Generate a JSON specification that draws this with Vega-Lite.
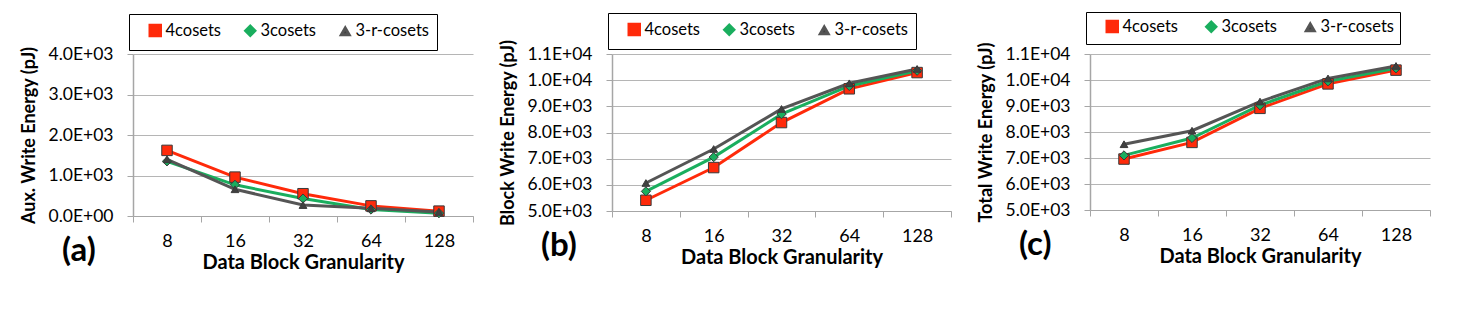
{
  "$schema": "https://vega.github.io/schema/vega-lite/v6.json",
  "background": "white",
  "padding": {"left": 20, "top": 11, "right": 5, "bottom": 5},
  "config": {
    "font": "Lato",
    "view": {"stroke": null},
    "axis": {"labelFont": "Lato", "titleFont": "Lato", "labelColor": "#000000", "titleColor": "#000000"},
    "title": {"font": "Lato", "color": "#000000"},
    "legend": {"labelFont": "Lato", "labelColor": "#000000"}
  },
  "datasets": {
    "d": [
      {"p": "a", "g": 8, "s": "4cosets", "v": 1620},
      {"p": "a", "g": 16, "s": "4cosets", "v": 960},
      {"p": "a", "g": 32, "s": "4cosets", "v": 550},
      {"p": "a", "g": 64, "s": "4cosets", "v": 250},
      {"p": "a", "g": 128, "s": "4cosets", "v": 120},
      {"p": "a", "g": 8, "s": "3cosets", "v": 1350},
      {"p": "a", "g": 16, "s": "3cosets", "v": 770},
      {"p": "a", "g": 32, "s": "3cosets", "v": 430},
      {"p": "a", "g": 64, "s": "3cosets", "v": 160},
      {"p": "a", "g": 128, "s": "3cosets", "v": 70},
      {"p": "a", "g": 8, "s": "3-r-cosets", "v": 1400},
      {"p": "a", "g": 16, "s": "3-r-cosets", "v": 660},
      {"p": "a", "g": 32, "s": "3-r-cosets", "v": 270},
      {"p": "a", "g": 64, "s": "3-r-cosets", "v": 190},
      {"p": "a", "g": 128, "s": "3-r-cosets", "v": 100},
      {"p": "b", "g": 8, "s": "4cosets", "v": 5410},
      {"p": "b", "g": 16, "s": "4cosets", "v": 6660},
      {"p": "b", "g": 32, "s": "4cosets", "v": 8380},
      {"p": "b", "g": 64, "s": "4cosets", "v": 9670},
      {"p": "b", "g": 128, "s": "4cosets", "v": 10290},
      {"p": "b", "g": 8, "s": "3cosets", "v": 5750},
      {"p": "b", "g": 16, "s": "3cosets", "v": 7060},
      {"p": "b", "g": 32, "s": "3cosets", "v": 8700},
      {"p": "b", "g": 64, "s": "3cosets", "v": 9780},
      {"p": "b", "g": 128, "s": "3cosets", "v": 10360},
      {"p": "b", "g": 8, "s": "3-r-cosets", "v": 6070},
      {"p": "b", "g": 16, "s": "3-r-cosets", "v": 7370},
      {"p": "b", "g": 32, "s": "3-r-cosets", "v": 8900},
      {"p": "b", "g": 64, "s": "3-r-cosets", "v": 9880},
      {"p": "b", "g": 128, "s": "3-r-cosets", "v": 10430},
      {"p": "c", "g": 8, "s": "4cosets", "v": 6960},
      {"p": "c", "g": 16, "s": "4cosets", "v": 7600},
      {"p": "c", "g": 32, "s": "4cosets", "v": 8910},
      {"p": "c", "g": 64, "s": "4cosets", "v": 9850},
      {"p": "c", "g": 128, "s": "4cosets", "v": 10380},
      {"p": "c", "g": 8, "s": "3cosets", "v": 7100},
      {"p": "c", "g": 16, "s": "3cosets", "v": 7770},
      {"p": "c", "g": 32, "s": "3cosets", "v": 9030},
      {"p": "c", "g": 64, "s": "3cosets", "v": 9950},
      {"p": "c", "g": 128, "s": "3cosets", "v": 10450},
      {"p": "c", "g": 8, "s": "3-r-cosets", "v": 7530},
      {"p": "c", "g": 16, "s": "3-r-cosets", "v": 8050},
      {"p": "c", "g": 32, "s": "3-r-cosets", "v": 9170},
      {"p": "c", "g": 64, "s": "3-r-cosets", "v": 10060},
      {"p": "c", "g": 128, "s": "3-r-cosets", "v": 10540}
    ]
  },
  "spacing": 25,
  "resolve": {"scale": {"stroke": "independent", "fill": "independent", "shape": "independent", "size": "independent", "y": "independent", "x": "independent"}, "legend": {"stroke": "independent"}},
  "hconcat": [
    {
      "width": 340, "height": 162,
      "data": {"name": "d"},
      "transform": [{"filter": "datum.p === 'a'"}],
      "title": {"text": "(a)", "orient": "bottom", "anchor": "start", "frame": "bounds", "fontSize": 33, "fontWeight": "bold", "dx": 42, "dy": -37, "offset": 0},
      "encoding": {
        "x": {"field": "g", "type": "ordinal", "sort": "ascending",
          "scale": {"type": "band", "paddingInner": 0, "paddingOuter": 0},
          "axis": {"title": "Data Block Granularity", "labelAngle": 0, "tickBand": "extent", "tickSize": 6, "tickColor": "#a6a6a6", "domainColor": "#a6a6a6", "labelFontSize": 18, "labelPadding": 10, "titleFontSize": 20, "titleFontWeight": "bold", "titlePadding": 2, "grid": false}},
        "y": {"field": "v", "type": "quantitative",
          "scale": {"domain": [0, 4000], "nice": false, "zero": false},
          "axis": {"title": "Aux. Write Energy (pJ)", "values": [0, 1000, 2000, 3000, 4000], "labelExpr": "datum.value == 0 ? '0.0E+00' : datum.value >= 10000 ? format(datum.value/10000, '.1f') + 'E+04' : format(datum.value/1000, '.1f') + 'E+03'", "grid": true, "gridColor": "#b5b5b5", "gridWidth": 1.2, "tickColor": "#a6a6a6", "tickSize": 6, "domainColor": "#a6a6a6", "domainWidth": 1.5, "labelFontSize": 17.5, "labelPadding": 14, "titleFontSize": 18, "titleFontWeight": "bold", "titlePadding": 10}}
      },
      "layer": [
        {"mark": {"type": "line", "strokeWidth": 3},
          "encoding": {"stroke": {"field": "s", "type": "nominal", "sort": ["4cosets", "3cosets", "3-r-cosets"],
            "scale": {"domain": ["4cosets", "3cosets", "3-r-cosets"], "range": ["#ff2a0a", "#1aae5e", "#555555"]},
            "legend": {"orient": "none", "legendX": -4, "legendY": -40, "direction": "horizontal", "title": null, "strokeColor": "#000000", "padding": 8, "symbolType": "stroke", "symbolOffset": 10, "columnPadding": 10, "symbolSize": 600, "symbolStrokeWidth": 3, "labelFontSize": 16.5, "labelOffset": 2}}}},
        {"mark": {"type": "point", "filled": true, "opacity": 1, "stroke": "#3a3a3a", "strokeWidth": 1},
          "encoding": {
            "fill": {"field": "s", "type": "nominal", "scale": {"domain": ["4cosets", "3cosets", "3-r-cosets"], "range": ["#ff2a0a", "#1aae5e", "#404040"]}, "legend": null},
            "shape": {"field": "s", "type": "nominal", "scale": {"domain": ["4cosets", "3cosets", "3-r-cosets"], "range": ["square", "diamond", "triangle-up"]}, "legend": null},
            "size": {"field": "s", "type": "nominal", "scale": {"domain": ["4cosets", "3cosets", "3-r-cosets"], "range": [110, 60, 100]}, "legend": null}}}
      ]
    },
    {
      "width": 339, "height": 157,
      "data": {"name": "d"},
      "transform": [{"filter": "datum.p === 'b'"}],
      "title": {"text": "(b)", "orient": "bottom", "anchor": "start", "frame": "bounds", "fontSize": 33, "fontWeight": "bold", "dx": 42, "dy": -37, "offset": 0},
      "encoding": {
        "x": {"field": "g", "type": "ordinal", "sort": "ascending",
          "scale": {"type": "band", "paddingInner": 0, "paddingOuter": 0},
          "axis": {"title": "Data Block Granularity", "labelAngle": 0, "tickBand": "extent", "tickSize": 6, "tickColor": "#a6a6a6", "domainColor": "#a6a6a6", "labelFontSize": 18, "labelPadding": 10, "titleFontSize": 20, "titleFontWeight": "bold", "titlePadding": 2, "grid": false}},
        "y": {"field": "v", "type": "quantitative",
          "scale": {"domain": [5000, 11000], "nice": false, "zero": false},
          "axis": {"title": "Block Write Energy (pJ)", "values": [5000, 6000, 7000, 8000, 9000, 10000, 11000], "labelExpr": "datum.value == 0 ? '0.0E+00' : datum.value >= 10000 ? format(datum.value/10000, '.1f') + 'E+04' : format(datum.value/1000, '.1f') + 'E+03'", "grid": true, "gridColor": "#b5b5b5", "gridWidth": 1.2, "tickColor": "#a6a6a6", "tickSize": 6, "domainColor": "#a6a6a6", "domainWidth": 1.5, "labelFontSize": 17.5, "labelPadding": 14, "titleFontSize": 18, "titleFontWeight": "bold", "titlePadding": 10}}
      },
      "layer": [
        {"mark": {"type": "line", "strokeWidth": 3},
          "encoding": {"stroke": {"field": "s", "type": "nominal", "sort": ["4cosets", "3cosets", "3-r-cosets"],
            "scale": {"domain": ["4cosets", "3cosets", "3-r-cosets"], "range": ["#ff2a0a", "#1aae5e", "#555555"]},
            "legend": {"orient": "none", "legendX": -4, "legendY": -41, "direction": "horizontal", "title": null, "strokeColor": "#000000", "padding": 8, "symbolType": "stroke", "symbolOffset": 10, "columnPadding": 10, "symbolSize": 600, "symbolStrokeWidth": 3, "labelFontSize": 16.5, "labelOffset": 2}}}},
        {"mark": {"type": "point", "filled": true, "opacity": 1, "stroke": "#3a3a3a", "strokeWidth": 1},
          "encoding": {
            "fill": {"field": "s", "type": "nominal", "scale": {"domain": ["4cosets", "3cosets", "3-r-cosets"], "range": ["#ff2a0a", "#1aae5e", "#404040"]}, "legend": null},
            "shape": {"field": "s", "type": "nominal", "scale": {"domain": ["4cosets", "3cosets", "3-r-cosets"], "range": ["square", "diamond", "triangle-up"]}, "legend": null},
            "size": {"field": "s", "type": "nominal", "scale": {"domain": ["4cosets", "3cosets", "3-r-cosets"], "range": [110, 60, 100]}, "legend": null}}}
      ]
    },
    {
      "width": 340, "height": 156,
      "data": {"name": "d"},
      "transform": [{"filter": "datum.p === 'c'"}],
      "title": {"text": "(c)", "orient": "bottom", "anchor": "start", "frame": "bounds", "fontSize": 33, "fontWeight": "bold", "dx": 42, "dy": -37, "offset": 0},
      "encoding": {
        "x": {"field": "g", "type": "ordinal", "sort": "ascending",
          "scale": {"type": "band", "paddingInner": 0, "paddingOuter": 0},
          "axis": {"title": "Data Block Granularity", "labelAngle": 0, "tickBand": "extent", "tickSize": 6, "tickColor": "#a6a6a6", "domainColor": "#a6a6a6", "labelFontSize": 18, "labelPadding": 10, "titleFontSize": 20, "titleFontWeight": "bold", "titlePadding": 2, "grid": false}},
        "y": {"field": "v", "type": "quantitative",
          "scale": {"domain": [5000, 11000], "nice": false, "zero": false},
          "axis": {"title": "Total Write Energy (pJ)", "values": [5000, 6000, 7000, 8000, 9000, 10000, 11000], "labelExpr": "datum.value == 0 ? '0.0E+00' : datum.value >= 10000 ? format(datum.value/10000, '.1f') + 'E+04' : format(datum.value/1000, '.1f') + 'E+03'", "grid": true, "gridColor": "#b5b5b5", "gridWidth": 1.2, "tickColor": "#a6a6a6", "tickSize": 6, "domainColor": "#a6a6a6", "domainWidth": 1.5, "labelFontSize": 17.5, "labelPadding": 14, "titleFontSize": 18, "titleFontWeight": "bold", "titlePadding": 10}}
      },
      "layer": [
        {"mark": {"type": "line", "strokeWidth": 3},
          "encoding": {"stroke": {"field": "s", "type": "nominal", "sort": ["4cosets", "3cosets", "3-r-cosets"],
            "scale": {"domain": ["4cosets", "3cosets", "3-r-cosets"], "range": ["#ff2a0a", "#1aae5e", "#555555"]},
            "legend": {"orient": "none", "legendX": -4, "legendY": -42, "direction": "horizontal", "title": null, "strokeColor": "#000000", "padding": 6, "symbolType": "stroke", "symbolOffset": 12, "columnPadding": 12, "symbolSize": 600, "symbolStrokeWidth": 3, "labelFontSize": 16.5, "labelOffset": 2}}}},
        {"mark": {"type": "point", "filled": true, "opacity": 1, "stroke": "#3a3a3a", "strokeWidth": 1},
          "encoding": {
            "fill": {"field": "s", "type": "nominal", "scale": {"domain": ["4cosets", "3cosets", "3-r-cosets"], "range": ["#ff2a0a", "#1aae5e", "#404040"]}, "legend": null},
            "shape": {"field": "s", "type": "nominal", "scale": {"domain": ["4cosets", "3cosets", "3-r-cosets"], "range": ["square", "diamond", "triangle-up"]}, "legend": null},
            "size": {"field": "s", "type": "nominal", "scale": {"domain": ["4cosets", "3cosets", "3-r-cosets"], "range": [110, 60, 100]}, "legend": null}}}
      ]
    }
  ]
}
